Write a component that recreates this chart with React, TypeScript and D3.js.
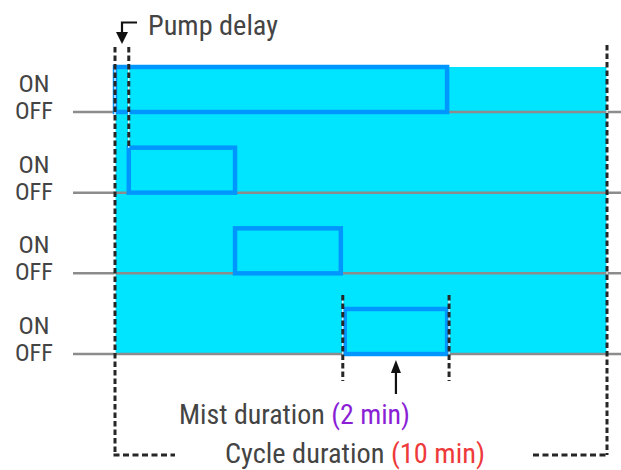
import React from "react";
import * as d3 from "d3";

// ---- data (minutes on a conceptual time axis) ----
const rowNames = ["Pump", "Zone 1", "Zone 2", "Zone 3"];
const onStarts = [0, 0.28, 2.44, 4.67];
const onEnds = [6.75, 2.44, 4.59, 6.75];
const levelLabels = ["ON", "OFF"];
const cycleMinutes = [0, 10];
const pumpDelay = [0, 0.28];
const mistMarks = [4.63, 6.79];
const mistLabel = ["Mist duration ", "(2 min)"];
const cycleLabel = ["Cycle duration ", "(10 min)"];
const delayLabel = "Pump delay";

const W = 621;
const H = 470;
const FONT = "'Liberation Sans Narrow', 'Arial Narrow', 'Roboto Condensed', Roboto, sans-serif";

export default function App() {
  const x = d3.scaleLinear().domain(cycleMinutes).range([115, 607]);
  const y = d3.scalePoint<string>().domain(rowNames).range([112, 354]);
  const onH = 45;
  const x0 = x(cycleMinutes[0]);
  const x1 = x(cycleMinutes[1]);
  const yTop = y(rowNames[0])! - onH;
  const yBot = y(rowNames[rowNames.length - 1])!;
  const dash = "5.5,3";

  const dashed = (x1_: number, y1_: number, x2_: number, y2_: number, key: string) => (
    <g key={key}>
      <line x1={x1_} y1={y1_} x2={x2_} y2={y2_} stroke="#ffffff" strokeWidth={1.2} />
      <line x1={x1_} y1={y1_} x2={x2_} y2={y2_} stroke="#262626" strokeWidth={3} strokeDasharray={dash} />
    </g>
  );

  const mx = (x(mistMarks[0]) + x(mistMarks[1])) / 2;

  return (
    <svg width={W} height={H} style={{ position: "absolute", left: 0, top: 0, background: "#fff" }}>
      {/* cyan cycle area */}
      <rect x={x0} y={yTop} width={x1 - x0} height={yBot - yTop} fill="#00E5FF" />
      {/* baselines */}
      {rowNames.map((r) => (
        <line key={"b" + r} x1={73} x2={W} y1={y(r)} y2={y(r)} stroke="#8c8c8c" strokeWidth={2.5} />
      ))}
      {/* ON/OFF labels */}
      {rowNames.map((r) => (
        <g key={"l" + r} fontFamily={FONT} fontSize={24} fill="#444" textAnchor="middle">
          <text x={34} y={y(r)! - 20} textLength={31} lengthAdjust="spacingAndGlyphs">{levelLabels[0]}</text>
          <text x={34} y={y(r)! + 7} textLength={38} lengthAdjust="spacingAndGlyphs">{levelLabels[1]}</text>
        </g>
      ))}
      {/* ON pulses */}
      {rowNames.map((r, i) => (
        <rect
          key={"p" + r}
          x={x(onStarts[i])}
          y={y(r)! - onH}
          width={x(onEnds[i]) - x(onStarts[i])}
          height={onH}
          fill="none"
          stroke="#0096FF"
          strokeWidth={4.5}
        />
      ))}
      {/* dashed guides */}
      {dashed(x0, 47, x0, 455, "d0")}
      {dashed(x1, 45, x1, 455, "d1")}
      {dashed(x(pumpDelay[1]), 47, x(pumpDelay[1]), y(rowNames[1])! - onH, "d2")}
      {dashed(x(mistMarks[0]), 295, x(mistMarks[0]), 381, "d3")}
      {dashed(x(mistMarks[1]), 295, x(mistMarks[1]), 381, "d4")}
      <line x1={x0 - 1.5} y1={455} x2={175} y2={455} stroke="#262626" strokeWidth={3} strokeDasharray="6,3.5" />
      <line x1={533} y1={455} x2={x1 + 1.5} y2={455} stroke="#262626" strokeWidth={3} strokeDasharray="6,3.5" />

      {/* pump delay arrow */}
      <path d="M137,22.5 H122 V34" fill="none" stroke="#111" strokeWidth={2.2} />
      <path d="M116,32 L128,32 L122,44 Z" fill="#111" />
      <text x={148} y={35} fontFamily={FONT} fontSize={27} fill="#444" textLength={130} lengthAdjust="spacingAndGlyphs">
        {delayLabel}
      </text>

      {/* mist arrow */}
      <line x1={mx} y1={370} x2={mx} y2={394} stroke="#111" strokeWidth={2.2} />
      <path d={`M${mx - 5},373 L${mx + 5},373 L${mx},360 Z`} fill="#111" />

      <text x={179} y={424} fontFamily={FONT} fontSize={28} fill="#444" textLength={231} lengthAdjust="spacingAndGlyphs">
        {mistLabel[0]}
        <tspan fill="#8A1FD6">{mistLabel[1]}</tspan>
      </text>
      <text x={225} y={463} fontFamily={FONT} fontSize={28} fill="#444" textLength={260} lengthAdjust="spacingAndGlyphs">
        {cycleLabel[0]}
        <tspan fill="#EE3A3A">{cycleLabel[1]}</tspan>
      </text>
    </svg>
  );
}
